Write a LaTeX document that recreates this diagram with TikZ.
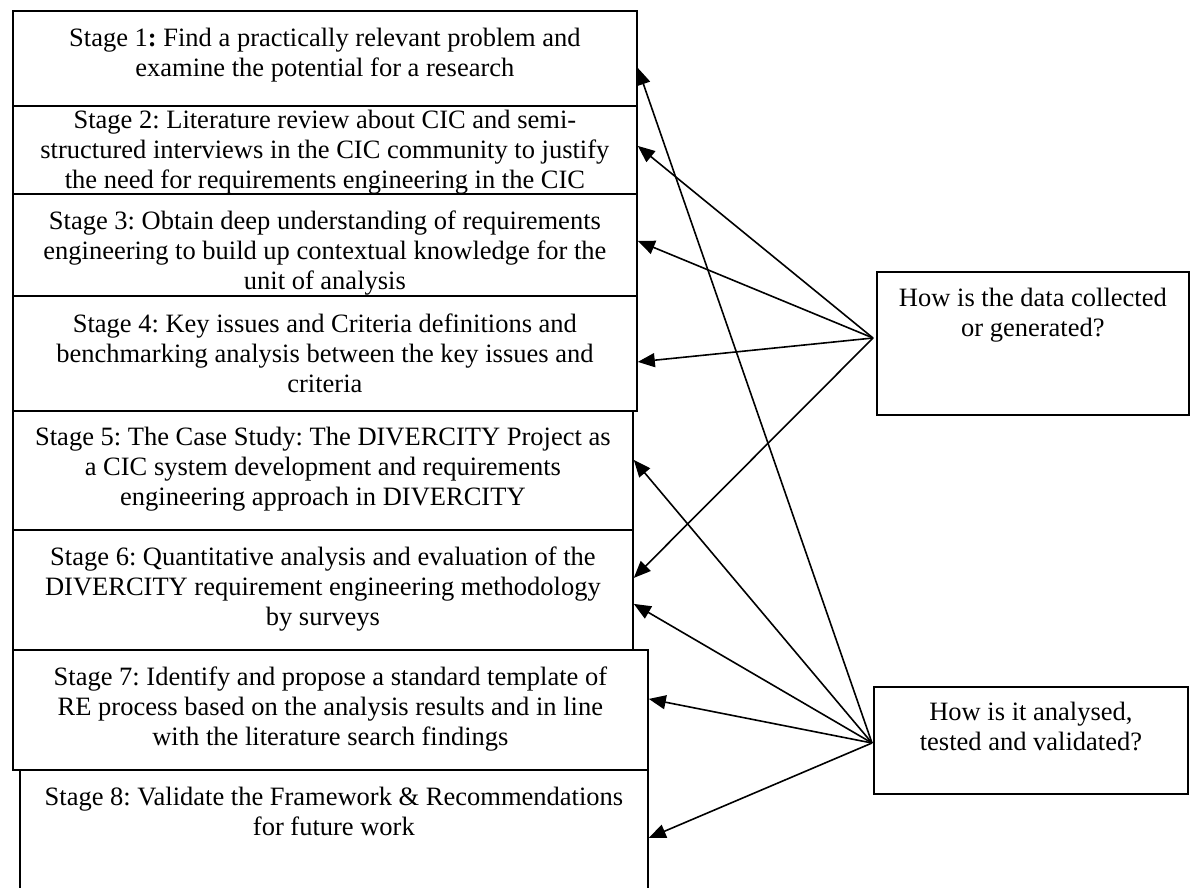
\documentclass[tikz,border=0pt]{standalone}
\usepackage{fontspec}
\setmainfont{Liberation Serif}
\usetikzlibrary{arrows.meta}
\begin{document}
\frenchspacing
\begin{tikzpicture}[x=1pt,y=-1pt,
  stagebox/.style={draw, line width=1.8pt, rectangle, inner sep=0pt, anchor=north west},
  stagetext/.style={anchor=north, inner sep=0pt, align=center, font=\fontsize{26.5}{30}\selectfont},
  arr/.style={line width=1.6pt, -{Triangle[length=17pt,width=14pt]}}]
\useasboundingbox (0,0) rectangle (1190,887);
\clip (0,0) rectangle (1190,887);
% stage boxes
\node[stagebox, minimum width=624pt, minimum height=95pt]  (s1) at (12,10) {};
\node[stagebox, minimum width=624pt, minimum height=88pt]  (s2) at (12,105) {};
\node[stagebox, minimum width=624pt, minimum height=102pt] (s3) at (12,193) {};
\node[stagebox, minimum width=624pt, minimum height=115pt] (s4) at (12,295) {};
\node[stagebox, minimum width=620pt, minimum height=119pt] (s5) at (12,410) {};
\node[stagebox, minimum width=620pt, minimum height=120pt] (s6) at (12,529) {};
\node[stagebox, minimum width=635pt, minimum height=120pt] (s7) at (12,649) {};
\node[stagebox, minimum width=628pt, minimum height=136pt] (s8) at (19,769) {};
% question boxes
\node[stagebox, minimum width=312pt, minimum height=143pt] (q1) at (876,271) {};
\node[stagebox, minimum width=314pt, minimum height=107pt] (q2) at (873,686) {};
% texts
\node[stagetext] (t1) at ([yshift=-18pt]s1.north) {Stage 1\textbf{:} Find a practically relevant problem and\\examine the potential for a research};
\node[stagetext] (t2) at ([yshift=-4.5pt]s2.north) {Stage 2: Literature review about CIC and semi-\\structured interviews in the CIC community to justify\\the need for requirements engineering in the CIC};
\node[stagetext] (t3) at ([yshift=-18pt]s3.north) {Stage 3: Obtain deep understanding of requirements\\engineering to build up contextual knowledge for the\\unit of analysis};
\node[stagetext] (t4) at ([yshift=-19pt]s4.north) {Stage 4: Key issues and Criteria definitions and\\benchmarking analysis between the key issues and\\criteria};
\node[stagetext] (t5) at ([yshift=-17pt]s5.north) {Stage 5: The Case Study: The DIVERCITY Project as\\a CIC system development and requirements\\engineering approach in DIVERCITY};
\node[stagetext] (t6) at ([yshift=-18pt]s6.north) {Stage 6: Quantitative analysis and evaluation of the\\DIVERCITY requirement engineering methodology\\by surveys};
\node[stagetext] (t7) at ([yshift=-18pt]s7.north) {Stage 7: Identify and propose a standard template of\\RE process based on the analysis results and in line\\with the literature search findings};
\node[stagetext] (t8) at ([yshift=-18pt]s8.north) {Stage 8: Validate the Framework \& Recommendations\\for future work};
\node[stagetext] (tq1) at ([yshift=-17pt]q1.north) {How is the data collected\\or generated?};
\node[stagetext] (tq2) at ([yshift=-16pt]q2.north) {How is it analysed,\\tested and validated?};
% connector sources
\coordinate (c1) at (873,338);
\coordinate (c2) at (872,743);
% arrows from q1
\draw[arr] (c1) -- ([yshift=4pt]s2.east);
\draw[arr] (c1) -- ([yshift=4pt]s3.east);
\draw[arr] (c1) -- ([yshift=-8.5pt]s4.east);
\draw[arr] (c1) -- ([yshift=12pt]s6.east);
% arrows from q2
\draw[arr] (c2) -- ([yshift=-9.5pt]s1.east);
\draw[arr] (c2) -- ([yshift=10.5pt]s5.east);
\draw[arr] (c2) -- ([yshift=-14pt]s6.east);
\draw[arr] (c2) -- ([yshift=11pt]s7.east);
\draw[arr] (c2) -- (s8.east);
\end{tikzpicture}
\end{document}
